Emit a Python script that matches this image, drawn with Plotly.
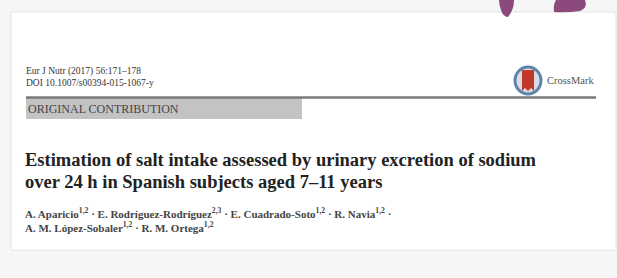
import plotly.graph_objects as go

journal_lines = ["Eur J Nutr (2017) 56:171–178", "DOI 10.1007/s00394-015-1067-y"]
section_label = "ORIGINAL CONTRIBUTION"
title_lines = ["Estimation of salt intake assessed by urinary excretion of sodium",
               "over 24 h in Spanish subjects aged 7–11 years"]
author_lines = ["A. Aparicio<sup>1,2</sup> · E. Rodríguez-Rodríguez<sup>2,3</sup> · E. Cuadrado-Soto<sup>1,2</sup> · R. Navia<sup>1,2</sup> ·",
                "A. M. López-Sobaler<sup>1,2</sup> · R. M. Ortega<sup>1,2</sup>"]
logo_label = "CrossMark"

W, H = 617, 278
fig = go.Figure()
serif = "Liberation Serif, Times New Roman, serif"

shapes = []
# page card
shapes.append(dict(type="rect", x0=11, y0=12, x1=616, y1=250, fillcolor="white",
                   line=dict(color="#e4e4e4", width=1), layer="below"))
# purple blobs
shapes.append(dict(type="path", path="M 499 0 L 514 0 Q 514 10 508 17 Q 503 17 501 10 Q 499 5 499 0 Z",
                   fillcolor="#8c4a7c", line=dict(width=0)))
shapes.append(dict(type="path", path="M 556 0 L 585 0 Q 588 8 580 11 Q 566 13 554 12 Q 553 5 556 0 Z",
                   fillcolor="#8c4a7c", line=dict(width=0)))
# gray section bar
shapes.append(dict(type="rect", x0=26, y0=97, x1=302, y1=119, fillcolor="#c3c3c3", line=dict(width=0)))
# dark rule
shapes.append(dict(type="line", x0=26, y0=97.5, x1=596, y1=97.5, line=dict(color="#7a7a7a", width=2.5)))
# crossmark logo
shapes.append(dict(type="circle", x0=515, y0=67, x1=541, y1=94, fillcolor="#d9dde3",
                   line=dict(color="#5b84a8", width=3)))
shapes.append(dict(type="path", path="M 522 70 L 534 70 L 534 91 L 531 88 L 528 91 L 525 88 L 522 91 Z",
                   fillcolor="#c0392b", line=dict(width=0)))

fig.update_layout(shapes=shapes)

ann = []
for i, t in enumerate(journal_lines):
    ann.append(dict(x=24, y=71 + i * 11.5, text=t, xanchor="left", yanchor="middle",
                    font=dict(family=serif, size=9.5, color="#333333")))
ann.append(dict(x=26, y=108.5, text=section_label, xanchor="left", yanchor="middle",
                font=dict(family=serif, size=12, color="#444444")))
ann.append(dict(x=545, y=80, text=logo_label, xanchor="left", yanchor="middle",
                font=dict(family=serif, size=10.5, color="#555555")))
for i, t in enumerate(title_lines):
    ann.append(dict(x=23, y=160 + i * 22, text="<b>" + t + "</b>", xanchor="left", yanchor="middle",
                    font=dict(family=serif, size=18.5, color="#222222")))
for i, t in enumerate(author_lines):
    ann.append(dict(x=23, y=213 + i * 14, text="<b>" + t + "</b>", xanchor="left", yanchor="middle",
                    font=dict(family=serif, size=11, color="#444444")))
for a in ann:
    a.update(xref="x", yref="y", showarrow=False)
fig.update_layout(annotations=ann)

fig.update_layout(width=W, height=H, margin=dict(l=0, r=0, t=0, b=0),
                  paper_bgcolor="#f6f6f6", plot_bgcolor="rgba(0,0,0,0)", showlegend=False,
                  xaxis=dict(range=[0, W], visible=False, fixedrange=True),
                  yaxis=dict(range=[H, 0], visible=False, fixedrange=True))
fig.write_html("out.html", config={"displayModeBar": False},
               post_script="document.body.style.margin='0';")
